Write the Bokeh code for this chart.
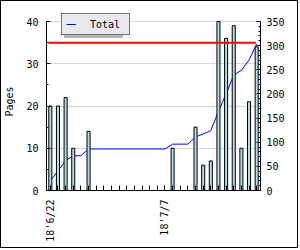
import numpy as np
from bokeh.plotting import figure
from bokeh.models import (Range1d, LinearAxis, SingleIntervalTicker, FixedTicker,
                          Legend, LegendItem, Grid)
from bokeh.embed import file_html
from bokeh.resources import INLINE

# ---- data ----
days = list(range(28))                      # 2018-06-22 .. 2018-07-19
pages = [20, 20, 22, 10, 0, 14, 0, 0, 0, 0,
         0, 0, 0, 0, 0, 0, 10, 0, 0, 15,
         6, 7, 40, 36, 39, 10, 21, 34]
target = 35
tick_days = [0, 15]
tick_labels = ["18'6/22", "18'7/7"]
series_name = "Total"
left_max = 40
right_max = 350

FONT = "DejaVu Sans Mono"
cum = list(np.cumsum(pages))

# frame extends 9px above the axes' top so the legend is not clipped
ext = 178.0 / 169.0
p = figure(width=298, height=248, output_backend="svg", toolbar_location=None,
           x_range=Range1d(-0.5, 27.5), y_range=Range1d(0, left_max * ext),
           min_border_left=40, min_border_right=39, min_border_top=11, min_border_bottom=59,
           y_axis_location=None, x_axis_location=None)
p.grid.visible = False
p.styles = {"border": "1px solid black"}
p.outline_line_color = None
p.background_fill_color = "white"
p.border_fill_color = "white"
p.extra_y_ranges = {"cum": Range1d(0, right_max * ext)}

# axes
left = LinearAxis(ticker=SingleIntervalTicker(interval=10, num_minor_ticks=2),
                  axis_label="Pages", bounds=(0, left_max))
right = LinearAxis(y_range_name="cum", ticker=SingleIntervalTicker(interval=50, num_minor_ticks=5),
                   bounds=(0, right_max))
bottom = LinearAxis(ticker=FixedTicker(ticks=tick_days, minor_ticks=days))
bottom.major_label_overrides = {d: l for d, l in zip(tick_days, tick_labels)}
bottom.major_label_orientation = np.pi / 2
for ax in (left, right, bottom):
    ax.major_tick_out = 0
    ax.minor_tick_out = 0
    ax.major_tick_in = 4
    ax.minor_tick_in = 2
    ax.axis_line_color = "black"
    ax.major_tick_line_color = "black"
    ax.minor_tick_line_color = "black"
    ax.major_label_text_font = FONT
    ax.major_label_text_font_size = "10px"
    ax.major_label_text_color = "black"
    ax.axis_label_text_font = FONT
    ax.axis_label_text_font_size = "10px"
    ax.axis_label_text_font_style = "normal"
    ax.axis_label_text_color = "black"
left.major_label_standoff = 8
left.axis_label_standoff = 8
right.major_label_standoff = 6
bottom.major_tick_in = 5
bottom.minor_tick_in = 5
bottom.major_label_standoff = 9
p.add_layout(left, "left")
p.add_layout(right, "right")
p.add_layout(bottom, "below")

# horizontal grid
g = Grid(dimension=1, ticker=left.ticker, grid_line_color="#d8d8d8", grid_line_width=1)
p.add_layout(g)

# cumulative line (behind bars)
line_r = p.line(days, cum, y_range_name="cum", line_color="blue", line_width=1)

# bars
bx = [d for d, v in zip(days, pages) if v > 0]
bv = [v for v in pages if v > 0]
p.vbar(x=bx, top=bv, bottom=0, width=0.4, fill_color="#b0e0e6",
       line_color="black", line_width=1)

# target line
p.line([days[0] - 0.25, days[-1] - 0.1], [target, target], line_color="red", line_width=2)

# legend shadow + legend
dummy = p.line([], [], line_alpha=0)
common = dict(margin=0, padding=4, glyph_width=10, glyph_height=12,
              label_height=12, label_width=35, label_standoff=14,
              label_text_font=FONT, label_text_font_size="10px")
shadow = Legend(items=[LegendItem(label=" ", renderers=[dummy])],
                location=(18, 152),
                background_fill_color="#b4b4b4", background_fill_alpha=1,
                border_line_color=None, **common)
leg = Legend(items=[LegendItem(label=series_name, renderers=[line_r])],
             location=(15, 155), label_text_color="black",
             background_fill_color="#e8e8ee", background_fill_alpha=1,
             border_line_color="black", border_line_width=1, **common)
p.add_layout(shadow, "center")
p.add_layout(leg, "center")

open("out.html", "w").write(file_html(p, INLINE))
